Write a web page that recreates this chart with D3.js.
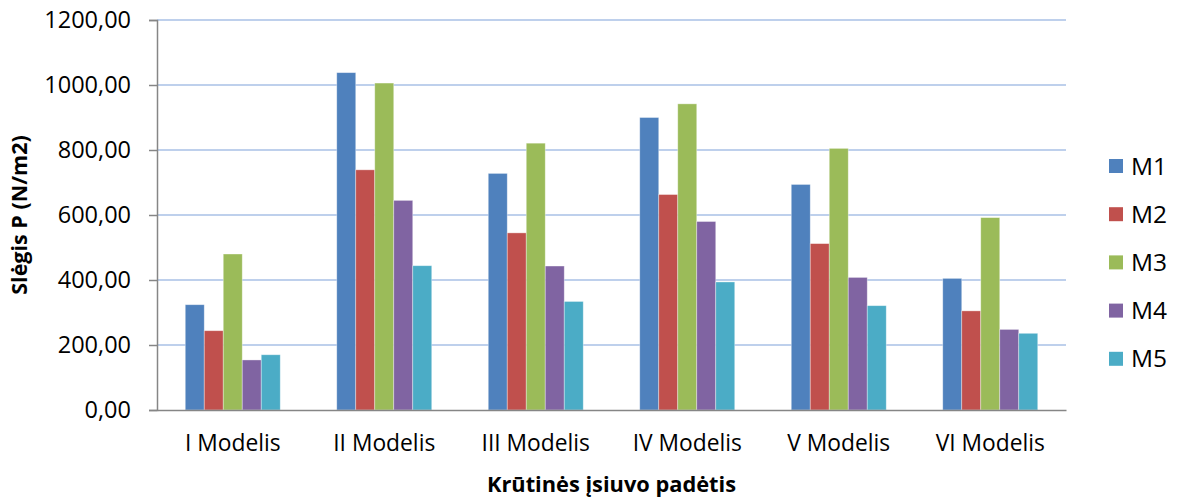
<!DOCTYPE html>
<html>
<head>
<meta charset="utf-8">
<script src="https://cdn.jsdelivr.net/npm/d3@7"></script>
<style>
  html, body { margin: 0; padding: 0; background: #fff; }
  svg { display: block; font-family: "Open Sans", "Noto Sans", sans-serif; }
</style>
</head>
<body>
<svg id="chart" width="1178" height="499"></svg>
<script>
// Pressure by model placement
const categories = ["I Modelis", "II Modelis", "III Modelis", "IV Modelis", "V Modelis", "VI Modelis"];
const seriesNames = ["M1", "M2", "M3", "M4", "M5"];
const M1 = [324, 1038, 728, 900, 694, 405];
const M2 = [244, 739, 545, 663, 512, 305];
const M3 = [480, 1006, 821, 942, 805, 592];
const M4 = [154, 645, 443, 580, 408, 248];
const M5 = [170, 444, 334, 394, 321, 236];
const yTicks = [0, 200, 400, 600, 800, 1000, 1200];
const colors = ["#4F81BD", "#C0504D", "#9BBB59", "#8064A2", "#4BACC6"];

const seriesValues = [M1, M2, M3, M4, M5];

const svg = d3.select("#chart");
const plot = { left: 157, right: 1066, top: 20, bottom: 410 };

const x = d3.scaleBand().domain(categories).range([plot.left, plot.right]).paddingInner(0).paddingOuter(0);
const groupFrac = 95 / 151.5;
const xInner = d3.scaleBand().domain(seriesNames)
  .range([x.bandwidth() * (1 - groupFrac) / 2, x.bandwidth() * (1 + groupFrac) / 2]).padding(0);
const y = d3.scaleLinear().domain([0, 1200]).range([plot.bottom, plot.top]);

const fmt = v => d3.format(".2f")(v).replace(".", ",");

// horizontal gridlines
svg.append("g").selectAll("line")
  .data(yTicks.filter(t => t > 0))
  .join("line")
  .attr("x1", plot.left).attr("x2", plot.right)
  .attr("y1", d => y(d)).attr("y2", d => y(d))
  .attr("stroke", "#A9C1E6").attr("stroke-width", 1.4);

// bars
const groups = svg.append("g").selectAll("g")
  .data(categories)
  .join("g")
  .attr("transform", d => `translate(${x(d)},0)`);

groups.selectAll("rect")
  .data((c, i) => seriesNames.map((s, j) => ({ s, v: seriesValues[j][i], j })))
  .join("rect")
  .attr("x", d => xInner(d.s))
  .attr("width", xInner.bandwidth())
  .attr("y", d => y(d.v))
  .attr("height", d => y(0) - y(d.v))
  .attr("fill", d => colors[d.j])
  .attr("stroke", "rgba(255,255,255,0.45)")
  .attr("stroke-width", 0.8);

// y axis
const yAxis = svg.append("g")
  .attr("transform", `translate(${plot.left},0)`)
  .call(d3.axisLeft(y).tickValues(yTicks).tickFormat(fmt).tickSize(8).tickPadding(18));
yAxis.select(".domain").attr("stroke", "#868686").attr("stroke-width", 1.5);
yAxis.selectAll(".tick line").attr("stroke", "#868686").attr("stroke-width", 1.5);
yAxis.selectAll(".tick text")
  .attr("font-size", 23.5).attr("fill", "#000")
  .attr("font-family", "'Open Sans', 'Noto Sans', sans-serif");

// x axis
const xAxis = svg.append("g")
  .attr("transform", `translate(0,${plot.bottom})`)
  .call(d3.axisBottom(x).tickSize(0).tickPadding(25).tickSizeOuter(0));
xAxis.select(".domain").attr("stroke", "#868686").attr("stroke-width", 1.5);
xAxis.selectAll(".tick text")
  .attr("font-size", 22.8).attr("fill", "#000")
  .attr("font-family", "'Open Sans', 'Noto Sans', sans-serif");

// axis titles
svg.append("text")
  .attr("x", (plot.left + plot.right) / 2)
  .attr("y", 492)
  .attr("text-anchor", "middle")
  .attr("font-size", 21.8).attr("font-weight", "bold")
  .text("Krūtinės įsiuvo padėtis");

svg.append("text")
  .attr("transform", `translate(27,${(plot.top + plot.bottom) / 2}) rotate(-90)`)
  .attr("text-anchor", "middle")
  .attr("font-size", 21.5).attr("font-weight", "bold")
  .text("Slėgis P (N/m2)");

// legend
const legend = svg.append("g").attr("transform", "translate(1109,166)");
const item = legend.selectAll("g")
  .data(seriesNames)
  .join("g")
  .attr("transform", (d, i) => `translate(0,${i * 48.2})`);
item.append("rect")
  .attr("x", 0).attr("y", -7).attr("width", 14).attr("height", 14)
  .attr("fill", (d, i) => colors[i]);
item.append("text")
  .attr("x", 22).attr("y", 0).attr("dy", "0.35em")
  .attr("font-size", 24.5)
  .text(d => d);
</script>
</body>
</html>
